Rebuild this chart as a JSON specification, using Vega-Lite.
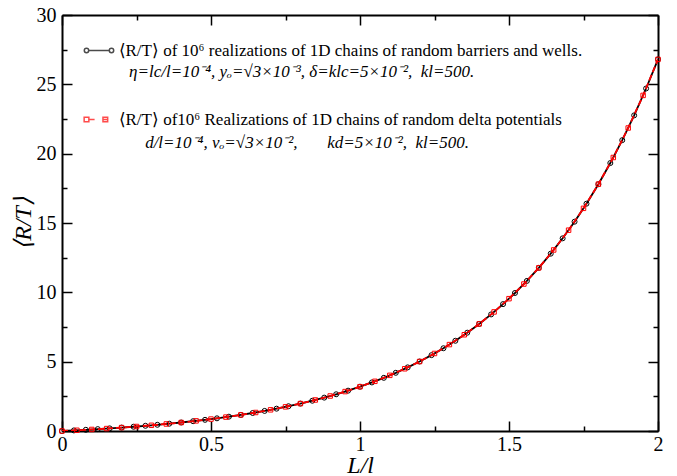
{
  "$schema": "https://vega.github.io/schema/vega-lite/v6.json",
  "width": 596,
  "height": 416,
  "autosize": {"type": "none"},
  "padding": {"left": 62, "top": 15, "right": 19, "bottom": 45},
  "background": "white",
  "config": {"view": {"stroke": null}, "font": "Liberation Serif"},
  "datasets": {
    "black": [
      {"x":0,"y":0},{"x":0.04,"y":0.0416},{"x":0.08,"y":0.0868},{"x":0.12,"y":0.1356},{"x":0.16,"y":0.1886},
      {"x":0.2,"y":0.2459},{"x":0.24,"y":0.308},{"x":0.28,"y":0.3753},{"x":0.32,"y":0.4482},{"x":0.36,"y":0.5272},
      {"x":0.4,"y":0.6128},{"x":0.44,"y":0.7055},{"x":0.48,"y":0.8058},{"x":0.52,"y":0.9146},{"x":0.56,"y":1.0324},
      {"x":0.6,"y":1.1601},{"x":0.64,"y":1.2983},{"x":0.68,"y":1.4481},{"x":0.72,"y":1.6103},{"x":0.76,"y":1.7861},
      {"x":0.8,"y":1.9765},{"x":0.84,"y":2.1828},{"x":0.88,"y":2.4062},{"x":0.92,"y":2.6483},{"x":0.96,"y":2.9105},
      {"x":1,"y":3.1945},{"x":1.04,"y":3.5022},{"x":1.08,"y":3.8356},{"x":1.12,"y":4.1967},{"x":1.16,"y":4.5878},
      {"x":1.2,"y":5.0116},{"x":1.24,"y":5.4706},{"x":1.28,"y":5.9679},{"x":1.32,"y":6.5066},{"x":1.36,"y":7.0901},
      {"x":1.4,"y":7.7223},{"x":1.44,"y":8.4071},{"x":1.48,"y":9.149},{"x":1.52,"y":9.9526},{"x":1.56,"y":10.8232},
      {"x":1.6,"y":11.7663},{"x":1.64,"y":12.7879},{"x":1.68,"y":13.8946},{"x":1.72,"y":15.0935},{"x":1.76,"y":16.3922},
      {"x":1.8,"y":17.7991},{"x":1.84,"y":19.3232},{"x":1.88,"y":20.9742},{"x":1.92,"y":22.7627},{"x":1.96,"y":24.7002},
      {"x":2,"y":26.7991}
    ],
    "red": [
      {"x":0,"y":0},{"x":0.05,"y":0.0526},{"x":0.1,"y":0.1107},{"x":0.15,"y":0.1749},{"x":0.2,"y":0.2459},
      {"x":0.25,"y":0.3244},{"x":0.3,"y":0.4111},{"x":0.35,"y":0.5069},{"x":0.4,"y":0.6128},{"x":0.45,"y":0.7298},
      {"x":0.5,"y":0.8591},{"x":0.55,"y":1.0021},{"x":0.6,"y":1.1601},{"x":0.65,"y":1.3346},{"x":0.7,"y":1.5276},
      {"x":0.75,"y":1.7408},{"x":0.8,"y":1.9765},{"x":0.85,"y":2.237},{"x":0.9,"y":2.5248},{"x":0.95,"y":2.8429},
      {"x":1,"y":3.1945},{"x":1.05,"y":3.5831},{"x":1.1,"y":4.0125},{"x":1.15,"y":4.4871},{"x":1.2,"y":5.0116},
      {"x":1.25,"y":5.5912},{"x":1.3,"y":6.2319},{"x":1.35,"y":6.9399},{"x":1.4,"y":7.7223},{"x":1.45,"y":8.5871},
      {"x":1.5,"y":9.5428},{"x":1.55,"y":10.599},{"x":1.6,"y":11.7663},{"x":1.65,"y":13.0563},{"x":1.7,"y":14.4821},
      {"x":1.75,"y":16.0577},{"x":1.8,"y":17.7991},{"x":1.85,"y":19.7236},{"x":1.9,"y":21.8506},{"x":1.95,"y":24.2012},
      {"x":2,"y":26.7991}
    ],
    "notes": [
      {"text": "η=lc/l=10⁻⁴, yₒ=√3×10⁻³, δ=klc=5×10⁻²,\u00a0 kl=500.", "x": 0.225, "y": 25.9},
      {"text": "d/l=10⁻⁴, vₒ=√3×10⁻²,\u00a0\u00a0\u00a0\u00a0\u00a0\u00a0 kd=5×10⁻²,\u00a0 kl=500.", "x": 0.279, "y": 20.77}
    ]
  },
  "resolve": {"axis": {"x": "independent", "y": "independent"}},
  "layer": [
    {
      "data": {"name": "black"},
      "mark": {"type": "line", "color": "black", "strokeWidth": 1.8, "clip": true},
      "encoding": {
        "x": {"field": "x", "type": "quantitative",
          "scale": {"domain": [0, 2], "nice": false, "zero": false},
          "axis": {"orient": "bottom", "values": [0,0.25,0.5,0.75,1,1.25,1.5,1.75,2],
            "tickSize": {"condition": {"test": "datum.value % 0.5 === 0", "value": -10}, "value": -5},
            "labelExpr": "datum.value % 0.5 === 0 ? '' + datum.value : ''",
            "labelFont": "Liberation Serif", "labelFontSize": 20, "labelColor": "black", "labelPadding": 13,
            "labelFlush": false, "labelOverlap": false, "grid": false,
            "domainColor": "black", "domainWidth": 2, "tickColor": "black", "tickWidth": 1.5,
            "title": "L/l", "titleFont": "Liberation Serif", "titleFontStyle": "italic", "titleFontWeight": "normal",
            "titleFontSize": 24, "titleColor": "black", "titlePadding": -6}},
        "y": {"field": "y", "type": "quantitative",
          "scale": {"domain": [0, 30], "nice": false},
          "axis": {"orient": "left", "values": [0,2.5,5,7.5,10,12.5,15,17.5,20,22.5,25,27.5,30],
            "tickSize": {"condition": {"test": "datum.value % 5 === 0", "value": -10}, "value": -5},
            "labelExpr": "datum.value % 5 === 0 ? '' + datum.value : ''",
            "labelFont": "Liberation Serif", "labelFontSize": 20, "labelColor": "black", "labelPadding": 16,
            "labelFlush": false, "labelOverlap": false, "grid": false,
            "domainColor": "black", "domainWidth": 2, "tickColor": "black", "tickWidth": 1.5,
            "title": "⟨R/T⟩", "titleFont": "Liberation Serif", "titleFontStyle": "italic", "titleFontWeight": "normal",
            "titleFontSize": 24, "titleColor": "black", "titlePadding": 1}}
      }
    },
    {
      "data": {"name": "black"},
      "mark": {"type": "point", "shape": "circle", "filled": false, "stroke": "black", "strokeWidth": 1, "size": 25, "opacity": 1},
      "encoding": {
        "x": {"field": "x", "type": "quantitative", "axis": null},
        "y": {"field": "y", "type": "quantitative", "axis": null}
      }
    },
    {
      "data": {"name": "red"},
      "mark": {"type": "line", "color": "red", "strokeWidth": 1.8, "strokeDash": [6, 3], "clip": true},
      "encoding": {
        "x": {"field": "x", "type": "quantitative",
          "axis": {"orient": "top", "values": [0,0.25,0.5,0.75,1,1.25,1.5,1.75,2],
            "tickSize": {"condition": {"test": "datum.value % 0.5 === 0", "value": -10}, "value": -5},
            "labels": false, "grid": false, "title": null,
            "domainColor": "black", "domainWidth": 2, "tickColor": "black", "tickWidth": 1.5}},
        "y": {"field": "y", "type": "quantitative",
          "axis": {"orient": "right", "values": [0,2.5,5,7.5,10,12.5,15,17.5,20,22.5,25,27.5,30],
            "tickSize": {"condition": {"test": "datum.value % 5 === 0", "value": -10}, "value": -5},
            "labels": false, "grid": false, "title": null,
            "domainColor": "black", "domainWidth": 2, "tickColor": "black", "tickWidth": 1.5}}
      }
    },
    {
      "data": {"name": "red"},
      "mark": {"type": "point", "shape": "square", "filled": false, "stroke": "red", "strokeWidth": 1, "size": 20, "opacity": 1},
      "encoding": {
        "x": {"field": "x", "type": "quantitative", "axis": null},
        "y": {"field": "y", "type": "quantitative", "axis": null}
      }
    },
    {
      "data": {"values": []},
      "mark": {"type": "point", "filled": false, "strokeWidth": 1.5},
      "encoding": {
        "shape": {"field": "s", "type": "nominal",
          "scale": {"domain": ["A", "B"], "range": [
            "M-1,0A0.15,0.15,0,1,1,-0.7,0A0.15,0.15,0,1,1,-1,0M-0.7,0L0.7,0M0.7,0A0.15,0.15,0,1,1,1,0A0.15,0.15,0,1,1,0.7,0",
            "M-1.01,-0.16H-0.69V0.16H-1.01ZM-0.69,0H-0.3M0.27,-0.16H0.59V0.16H0.27ZM0.22,0H0.64"]},
          "legend": {"orient": "none", "legendX": 21.5, "legendY": 20, "title": null, "padding": 0,
            "symbolSize": 864, "symbolStrokeWidth": 1.5, "symbolFillColor": "transparent",
            "labelFont": "Liberation Serif", "labelFontSize": 17, "labelColor": "black", "labelLimit": 1000,
            "rowPadding": 45, "labelOffset": 4,
            "labelExpr": "datum.value === 'A' ? '⟨R/T⟩ of 10⁶ realizations of 1D chains of random barriers and wells.' : '⟨R/T⟩ of10⁶ Realizations of 1D chains of random delta potentials'"}},
        "stroke": {"field": "s", "type": "nominal",
          "scale": {"domain": ["A", "B"], "range": ["black", "red"]},
          "legend": {"orient": "none", "legendX": 21.5, "legendY": 20, "title": null, "padding": 0,
            "symbolSize": 864, "symbolStrokeWidth": 1.5, "symbolFillColor": "transparent",
            "labelFont": "Liberation Serif", "labelFontSize": 17, "labelColor": "black", "labelLimit": 1000,
            "rowPadding": 45, "labelOffset": 4,
            "labelExpr": "datum.value === 'A' ? '⟨R/T⟩ of 10⁶ realizations of 1D chains of random barriers and wells.' : '⟨R/T⟩ of10⁶ Realizations of 1D chains of random delta potentials'"}}
      }
    },
    {
      "data": {"name": "notes"},
      "mark": {"type": "text", "align": "left", "baseline": "middle", "font": "Liberation Serif", "fontStyle": "italic", "fontSize": 17, "color": "black"},
      "encoding": {
        "x": {"field": "x", "type": "quantitative", "axis": null},
        "y": {"field": "y", "type": "quantitative", "axis": null},
        "text": {"field": "text"}
      }
    }
  ]
}
